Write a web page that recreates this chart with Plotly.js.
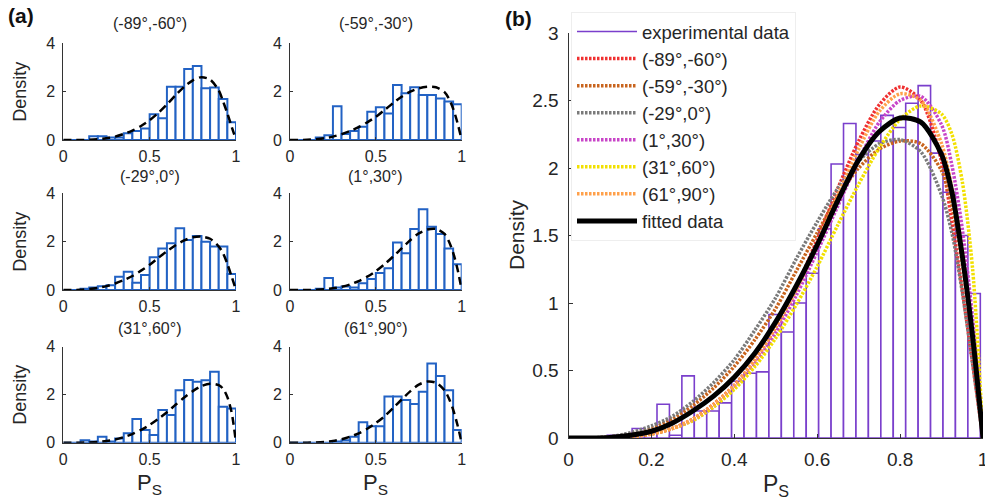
<!DOCTYPE html>
<html><head><meta charset="utf-8">
<script src="https://cdn.plot.ly/plotly-3.0.1.min.js"></script>
<style>html,body{margin:0;padding:0;background:#fff}#chart{width:985px;height:503px}</style>
</head><body><div id="chart"></div>
<script>
// ---------------- DATA ----------------
const subplotTitles = ['(-89°,-60°)', '(-59°,-30°)', '(-29°,0°)', '(1°,30°)', '(31°,60°)', '(61°,90°)'];
const psBinCentersA = [0.025,0.075,0.125,0.175,0.225,0.275,0.325,0.375,0.425,0.475,0.525,0.575,0.625,0.675,0.725,0.775,0.825,0.875,0.925,0.975];
const psBinWidthA = 0.05;
const densM89 = [0,0,0,0.15,0.15,0.1,0.1,0.28,0.37,0.48,1.06,0.9,2.2,2.2,2.94,3.06,2.14,2.17,1.7,0.73];
const densM59 = [0,0,0,0.1,0.2,1.4,0.25,0.37,0.55,1.17,1.35,1.1,2.28,1.93,2.18,1.86,1.86,1.72,1.59,1.48];
const densM29 = [0,0,0.05,0.1,0.15,0.2,0.55,0.76,0.3,0.62,1.35,1.72,1.93,2.55,2.07,2.23,2.0,1.8,1.8,0.66];
const densP1  = [0,0,0,0.05,0.5,0.1,0.14,0.1,0.28,0.45,0.7,0.9,1.96,1.52,2.52,3.34,2.62,2.32,1.72,1.06];
const densP31 = [0,0,0.1,0.05,0.25,0.05,0.18,0.39,0.99,0.53,0.32,1.36,1.15,2.19,2.61,2.54,2.6,2.96,1.5,1.43];
const densP61 = [0,0,0,0,0,0.05,0.1,0.25,0.85,0.69,0.69,1.92,1.92,1.78,1.61,2.12,3.3,2.78,2.19,0.53];

const psBinCentersB = [0.1085,0.1385,0.1685,0.1985,0.2285,0.2585,0.2885,0.3185,0.3485,0.3785,0.4085,0.4385,0.4685,0.4985,0.5285,0.5585,0.5885,0.6185,0.6485,0.6785,0.7085,0.7385,0.7685,0.7985,0.8285,0.8585,0.8885,0.9185,0.9485,0.9785];
const psBinWidthB = 0.03;
const densExp = [0.02,0.02,0.07,0.04,0.25,0.02,0.46,0.2,0.2,0.26,0.42,0.48,0.49,0.915,0.785,1.0,1.22,1.55,2.03,2.33,2.1,2.2,2.39,2.3,2.48,2.61,2.11,1.82,1.5,1.07];

const fitPs    = [0,0.05,0.1,0.15,0.2,0.25,0.3,0.35,0.4,0.45,0.5,0.55,0.6,0.65,0.7,0.75,0.8,0.85,0.9,0.925,0.95,0.975,1.0];
const fitM89   = [0,0,0.002,0.01,0.03,0.07,0.14,0.25,0.39,0.58,0.82,1.12,1.47,1.85,2.2,2.47,2.6,2.5,2.05,1.6,1.1,0.55,0];
const fitM59   = [0,0,0.008,0.03,0.07,0.14,0.24,0.37,0.53,0.73,0.96,1.24,1.52,1.79,2.0,2.14,2.2,2.18,1.98,1.72,1.3,0.72,0];
const fitM29   = [0,0,0.01,0.04,0.09,0.16,0.27,0.41,0.58,0.8,1.04,1.33,1.6,1.85,2.05,2.18,2.21,2.12,1.8,1.52,1.08,0.55,0];
const fitP1    = [0,0,0.002,0.01,0.03,0.07,0.13,0.23,0.37,0.55,0.78,1.06,1.38,1.72,2.06,2.34,2.5,2.53,2.32,2.02,1.55,0.88,0];
const fitP31   = [0,0,0.002,0.01,0.03,0.07,0.13,0.23,0.36,0.53,0.74,0.99,1.27,1.58,1.88,2.15,2.36,2.46,2.4,2.25,1.9,1.25,0];
const fitP61   = [0,0,0.002,0.01,0.03,0.07,0.14,0.25,0.39,0.58,0.82,1.1,1.44,1.8,2.14,2.42,2.55,2.5,2.18,1.85,1.38,0.75,0];
const fitAll   = [0,0,0.004,0.02,0.05,0.11,0.2,0.31,0.45,0.63,0.86,1.13,1.43,1.76,2.06,2.27,2.37,2.34,2.1,1.82,1.35,0.75,0];

const legendNames = ['experimental data','(-89°,-60°)','(-59°,-30°)','(-29°,0°)','(1°,30°)','(31°,60°)','(61°,90°)','fitted data'];
const smallTicks = {x:[0,0.5,1], xt:['0','0.5','1'], y:[0,2,4], yt:['0','2','4']};
const bigTicks = {x:[0,0.2,0.4,0.6,0.8,1], xt:['0','0.2','0.4','0.6','0.8','1'], y:[0,0.5,1,1.5,2,2.5,3], yt:['0','0.5','1','1.5','2','2.5','3']};

// ---------------- LAYOUT HELPERS ----------------
const W = 985, H = 503;
const fx = p => p / W, fy = p => 1 - p / H;
const TXT = '#262626';
const FONT = 'Liberation Sans, Arial, sans-serif';
const BLUE = '#2262c4', PURPLE = '#7a3fcc';
const curveColors = ['#f03030','#c8641e','#7a7a7a','#c845c8','#f2e000','#ffa04a'];

const smallDensity = [densM89, densM59, densM29, densP1, densP31, densP61];
const fitCurves = [fitM89, fitM59, fitM29, fitP1, fitP31, fitP61];

const colsPx = [[63.3,236],[290,461.7]];
const rowsPx = [[43.3,140],[193.3,290],[346.7,442.7]];
const titleYPx = [23, 177, 328];

const layout = {
  width: W, height: H, margin:{l:0,r:0,t:0,b:0},
  paper_bgcolor:'#fff', plot_bgcolor:'rgba(0,0,0,0)',
  font:{family:FONT, color:TXT},
  showlegend:true, bargap:0,
  legend:{x:fx(571), y:fy(12), xanchor:'left', yanchor:'top', bgcolor:'#fff', bordercolor:'#eeeeee', borderwidth:1,
          font:{size:18.5, family:FONT, color:TXT}, itemwidth:60, tracegroupgap:0},
  annotations:[], shapes:[]
};
const traces = [];

function axisBase(){
  return {showgrid:false, zeroline:false, showline:true, linecolor:'#333', linewidth:1,
          ticks:'inside', ticklen:3, tickcolor:'#333', tickwidth:1, fixedrange:true, ticklabeloverflow:'allow',
          tickfont:{size:16, family:FONT, color:TXT}};
}

for (let i = 0; i < 6; i++) {
  const r = Math.floor(i/2), c = i % 2, n = i + 1;
  const xa = 'xaxis' + n, ya = 'yaxis' + n;
  layout[xa] = Object.assign(axisBase(), {domain:[fx(colsPx[c][0]), fx(colsPx[c][1])], range:[0,1],
    anchor:'y'+n, tickvals:smallTicks.x, ticktext:smallTicks.xt, ticklabelstandoff:2});
  layout[ya] = Object.assign(axisBase(), {domain:[fy(rowsPx[r][1]), fy(rowsPx[r][0])], range:[0,4],
    anchor:'x'+n, tickvals:smallTicks.y, ticktext:smallTicks.yt, ticklabelstandoff:4});
  traces.push({type:'bar', x:psBinCentersA, y:smallDensity[i], width:psBinWidthA, xaxis:'x'+n, yaxis:'y'+n,
    marker:{color:'rgba(255,255,255,1)', line:{color:BLUE, width:2}}, showlegend:false, hoverinfo:'skip'});
  traces.push({type:'scatter', mode:'lines', x:fitPs, y:fitCurves[i], xaxis:'x'+n, yaxis:'y'+n,
    line:{color:'#000', width:2.5, dash:'8px,5px', shape:'spline', smoothing:0.8}, showlegend:false, hoverinfo:'skip'});
  layout.annotations.push({text:subplotTitles[i], xref:'paper', yref:'paper',
    x:fx((colsPx[c][0]+colsPx[c][1])/2), y:fy(titleYPx[r]), xanchor:'center', yanchor:'middle',
    showarrow:false, font:{size:16, color:TXT}});
  if (c === 0) layout.annotations.push({text:'Density', xref:'paper', yref:'paper', textangle:-90,
    x:fx(20), y:fy((rowsPx[r][0]+rowsPx[r][1])/2), xanchor:'center', yanchor:'middle', showarrow:false, font:{size:18, color:TXT}});
  if (r === 2) layout.annotations.push({text:'P<sub>S</sub>', xref:'paper', yref:'paper',
    x:fx((colsPx[c][0]+colsPx[c][1])/2), y:fy(484), xanchor:'center', yanchor:'middle', showarrow:false, font:{size:22, color:TXT}});
}

// big panel (b)
const n = 7;
layout['xaxis'+n] = Object.assign(axisBase(), {domain:[fx(568.5), fx(983)], range:[0,1], anchor:'y'+n,
  tickvals:bigTicks.x, ticktext:bigTicks.xt, ticklen:4, tickfont:{size:19, family:FONT, color:TXT}, ticklabelstandoff:4});
layout['yaxis'+n] = Object.assign(axisBase(), {domain:[fy(438), fy(33)], range:[0,3], anchor:'x'+n,
  tickvals:bigTicks.y, ticktext:bigTicks.yt, ticklen:4, tickfont:{size:19, family:FONT, color:TXT}, ticklabelstandoff:5});

traces.push({type:'bar', x:psBinCentersB, y:densExp, width:psBinWidthB, xaxis:'x7', yaxis:'y7', name:legendNames[0],
  legendgroup:'exp', marker:{color:'rgba(255,255,255,1)', line:{color:PURPLE, width:1.6}}, showlegend:false, hoverinfo:'skip'});
traces.push({type:'scatter', mode:'lines', x:[null], y:[null], xaxis:'x7', yaxis:'y7', name:legendNames[0], legendgroup:'exp',
  line:{color:PURPLE, width:1.6}, showlegend:true});
for (let i = 0; i < 6; i++) {
  traces.push({type:'scatter', mode:'lines', x:fitPs, y:fitCurves[i], xaxis:'x7', yaxis:'y7', name:legendNames[i+1],
    line:{color:curveColors[i], width:3.5, dash:'2.5px,1.5px', shape:'spline', smoothing:0.8}, hoverinfo:'skip'});
}
traces.push({type:'scatter', mode:'lines', x:fitPs, y:fitAll, xaxis:'x7', yaxis:'y7', name:legendNames[7],
  line:{color:'#000', width:5, shape:'spline', smoothing:0.8}, hoverinfo:'skip'});

layout.annotations.push({text:'Density', xref:'paper', yref:'paper', textangle:-90, x:fx(516), y:fy(235),
  xanchor:'center', yanchor:'middle', showarrow:false, font:{size:21, color:TXT}});
layout.annotations.push({text:'P<sub>S</sub>', xref:'paper', yref:'paper', x:fx(776), y:fy(485),
  xanchor:'center', yanchor:'middle', showarrow:false, font:{size:23, color:TXT}});
layout.annotations.push({text:'<b>(a)</b>', xref:'paper', yref:'paper', x:fx(6), y:fy(16), xanchor:'left', yanchor:'middle',
  showarrow:false, font:{size:21, color:'#111'}});
layout.annotations.push({text:'<b>(b)</b>', xref:'paper', yref:'paper', x:fx(503), y:fy(18), xanchor:'left', yanchor:'middle',
  showarrow:false, font:{size:21, color:'#111'}});

Plotly.newPlot('chart', traces, layout, {staticPlot:true, displayModeBar:false});
</script></body></html>
